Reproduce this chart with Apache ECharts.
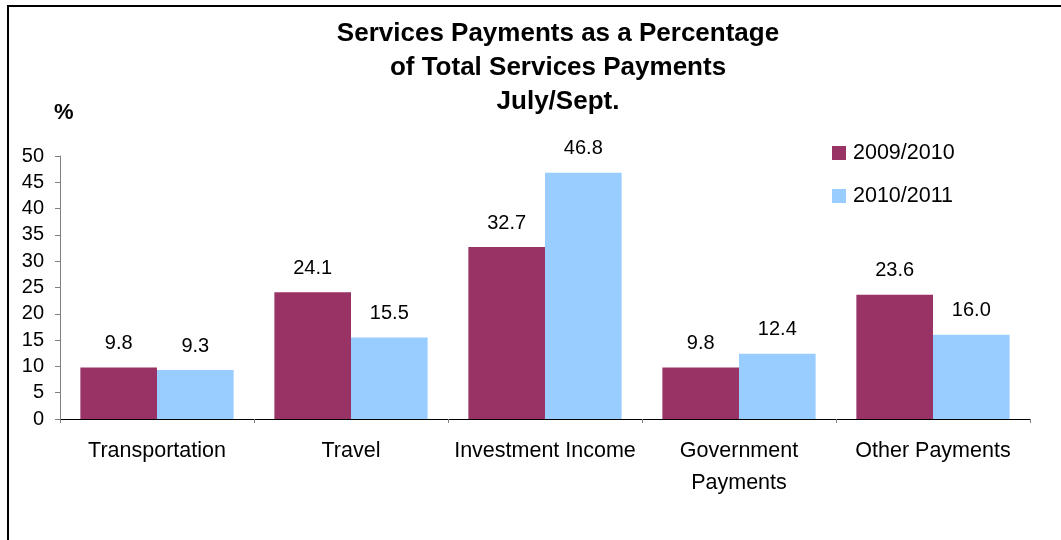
<!DOCTYPE html>
<html>
<head>
<meta charset="utf-8">
<script src="https://cdn.jsdelivr.net/npm/echarts@6/dist/echarts.min.js"></script>
<style>
  html, body { margin: 0; padding: 0; background: #fff; }
  #chart { width: 1061px; height: 540px; }
</style>
</head>
<body>
<div id="chart"></div>
<script>
// Service payment categories and their shares (%) of total services payments
const categories = ['Transportation', 'Travel', 'Investment Income', 'Government\nPayments', 'Other Payments'];
const seriesNames = ['2009/2010', '2010/2011'];
const values2009 = [9.8, 24.1, 32.7, 9.8, 23.6];
const values2010 = [9.3, 15.5, 46.8, 12.4, 16.0];
const yTicks = { min: 0, max: 50, interval: 5 };

const FONT = '"Liberation Sans", Arial, sans-serif';
const chart = echarts.init(document.getElementById('chart'), null, { renderer: 'canvas' });

const labelStyle = {
  show: true,
  position: 'top',
  distance: 14,
  fontFamily: FONT,
  fontSize: 20,
  color: '#000',
  formatter: p => p.value.toFixed(1)
};

chart.setOption({
  backgroundColor: '#fff',
  animation: false,
  textStyle: { fontFamily: FONT },
  title: {
    text: 'Services Payments as a Percentage\nof Total Services Payments\nJuly/Sept.',
    left: 553,
    textAlign: 'center',
    top: 12,
    textStyle: { fontFamily: FONT, fontSize: 26, fontWeight: 'bold', color: '#000', lineHeight: 34 }
  },
  graphic: [
    {
      type: 'rect',
      shape: { x: 8, y: 6, width: 1200, height: 700 },
      style: { fill: 'none', stroke: '#000', lineWidth: 2 },
      silent: true
    },
    {
      type: 'text',
      left: 54,
      top: 102,
      style: { text: '%', font: 'bold 22px ' + FONT, fill: '#000' }
    }
  ],
  legend: {
    orient: 'vertical',
    left: 827,
    top: 137,
    itemWidth: 14,
    itemHeight: 14,
    itemGap: 21,
    icon: 'rect',
    textStyle: { fontFamily: FONT, fontSize: 21.5, color: '#000', padding: [0, 0, 0, 2] },
    data: seriesNames
  },
  grid: { left: 60, right: 31, top: 156, bottom: 121, containLabel: false },
  xAxis: {
    type: 'category',
    data: categories,
    boundaryGap: true,
    axisLine: { lineStyle: { color: '#000', width: 1 } },
    axisTick: { show: true, alignWithLabel: false, length: 4, lineStyle: { color: '#808080' } },
    axisLabel: { interval: 0, fontFamily: FONT, fontSize: 21.5, color: '#000', margin: 16, lineHeight: 32 }
  },
  yAxis: {
    type: 'value',
    min: yTicks.min,
    max: yTicks.max,
    interval: yTicks.interval,
    axisLine: { show: true, lineStyle: { color: '#808080', width: 1 } },
    axisTick: { show: true, length: 5, lineStyle: { color: '#808080' } },
    splitLine: { show: false },
    axisLabel: { fontFamily: FONT, fontSize: 20, color: '#000', margin: 16 }
  },
  series: [
    {
      name: seriesNames[0],
      type: 'bar',
      data: values2009,
      itemStyle: { color: '#993366' },
      barGap: '0%',
      barCategoryGap: '21%',
      label: labelStyle
    },
    {
      name: seriesNames[1],
      type: 'bar',
      data: values2010,
      itemStyle: { color: '#99CCFF' },
      barGap: '0%',
      barCategoryGap: '21%',
      label: labelStyle
    }
  ]
});
</script>
</body>
</html>
